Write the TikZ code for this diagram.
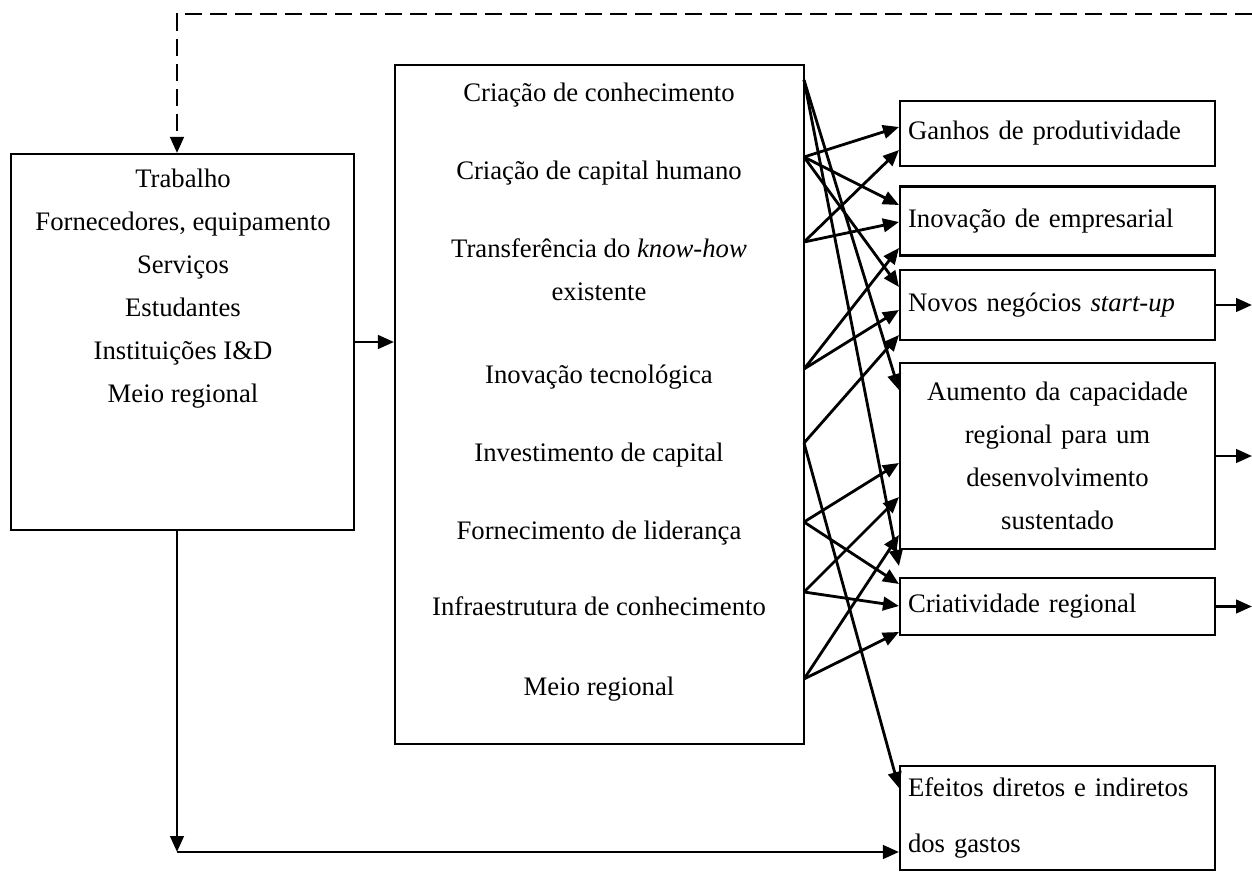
\documentclass[tikz,border=0pt]{standalone}
\usepackage{fontspec}
\setmainfont{Liberation Serif}
\usetikzlibrary{arrows.meta}
\begin{document}
\begin{tikzpicture}[x=0.02cm,y=-0.02cm]
\tikzset{
  bx/.style={draw, line width=1.2pt, inner sep=0pt},
  txt/.style={inner sep=0pt, font=\fontsize{15.2}{24.4}\selectfont, text height=11pt, text depth=3.5pt},
  rbox/.style={draw, line width=1.2pt, inner xsep=0.16cm, inner ysep=0pt, text width=5.98cm, font=\fontsize{15.2}{24.4}\selectfont},
  conn/.style={line width=1.6pt, -{Triangle[length=0.32cm,width=0.27cm]}},
  dashconn/.style={conn, dash pattern=on 0.34cm off 0.16cm}
}
\useasboundingbox (0,0) rectangle (1252,872);
% left box
\node[bx, minimum width=6.86cm, minimum height=7.52cm] (L) at (182.5,342) {};
\node[txt] (l1) at (183,181) {Trabalho};
\node[txt] (l2) at (183,224) {Fornecedores, equipamento};
\node[txt] (l3) at (183,267) {Serviços};
\node[txt] (l4) at (183,310) {Estudantes};
\node[txt] (l5) at (183,353) {Instituições I\&D};
\node[txt] (l6) at (183,396) {Meio regional};
% middle box
\node[bx, minimum width=8.18cm, minimum height=13.58cm] (M) at (599.5,404.5) {};
\node[txt] (m1) at (599,95) {Criação de conhecimento};
\node[txt] (m2) at (599,173) {Criação de capital humano};
\node[txt] (m3) at (599,251) {Transferência do \textit{know-how}};
\node[txt] (m3b) at (599,294) {existente};
\node[txt] (m4) at (599,377) {Inovação tecnológica};
\node[txt] (m5) at (599,455) {Investimento de capital};
\node[txt] (m6) at (599,533) {Fornecimento de liderança};
\node[txt] (m7) at (599,609) {Infraestrutura de conhecimento};
\node[txt] (m8) at (599,689) {Meio regional};
% right boxes
\node[rbox, align=left, minimum height=1.3cm] (G) at (1057.5,133.5) {Ganhos de produtividade};
\node[rbox, align=left, minimum height=1.38cm] (I) at (1057.5,221) {Inovação de empresarial};
\node[rbox, align=left, minimum height=1.4cm] (N) at (1057.5,305) {Novos negócios \textit{start-up}};
\node[rbox, align=center, minimum height=3.72cm] (A) at (1057.5,456) {Aumento da capacidade\\regional para um\\desenvolvimento\\sustentado};
\node[rbox, align=left, minimum height=1.14cm] (C) at (1057.5,606.5) {Criatividade regional};
\node[rbox, align=left, minimum height=2.08cm, font=\fontsize{15.2}{32.4}\selectfont] (E) at (1057.5,818) {Efeitos diretos e indiretos\\dos gastos};
% sources on the middle box
\coordinate (s1) at (804,80);
\coordinate (s2) at (804,157);
\coordinate (s3) at (804,242);
\coordinate (s4) at (804,369);
\coordinate (s5) at (804,443);
\coordinate (s6) at (804,522);
\coordinate (s7) at (804,592);
\coordinate (s8) at (804,679);
% connectors
\draw[conn] (s2) -- (G.west |- 0,127);
\draw[conn] (s3) -- (G.west |- 0,150);
\draw[conn] (s2) -- (I.west |- 0,205);
\draw[conn] (s3) -- (I.west |- 0,222);
\draw[conn] (s4) -- (I.west |- 0,248);
\draw[conn] (s2) -- (N.west |- 0,287);
\draw[conn] (s4) -- (N.west |- 0,310);
\draw[conn] (s5) -- (N.west |- 0,335);
\draw[conn] (s1) -- (A.west |- 0,390);
\draw[conn] (s6) -- (A.west |- 0,463);
\draw[conn] (s7) -- (A.west |- 0,497);
\draw[conn] (s8) -- (A.west |- 0,535);
\draw[conn] (s1) -- (C.west |- 0,566);
\draw[conn] (s6) -- (C.west |- 0,584);
\draw[conn] (s7) -- (C.west |- 0,606);
\draw[conn] (s8) -- (C.west |- 0,632);
\draw[conn] (s5) -- (E.west |- 0,788);
% left to middle
\draw[conn] (L.east |- 0,342) -- (M.west |- 0,342);
\coordinate (bl) at (177,852);
\draw[conn] (L.south -| 177,0) -- (bl);
\draw[conn] (bl) -- (E.west |- bl);
% outputs to the right
\coordinate (o1) at (1252,305);
\coordinate (o2) at (1252,456);
\coordinate (o3) at (1252,606.5);
\draw[conn] (N.east) -- (o1);
\draw[conn] (A.east) -- (o2);
\draw[conn] (C.east) -- (o3);
% dashed feedback
\coordinate (fb) at (1252,14);
\draw[dashconn] (fb) -- (177,14) -- (L.north -| 177,0);
\end{tikzpicture}
\end{document}
